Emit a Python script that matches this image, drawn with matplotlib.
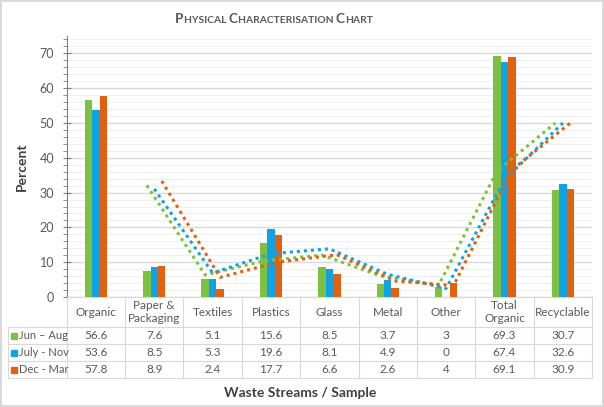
import matplotlib.pyplot as plt
import numpy as np
from matplotlib.transforms import blended_transform_factory
from matplotlib.ticker import MultipleLocator
from matplotlib.patches import Rectangle

plt.rcParams['font.family'] = ['Lato', 'DejaVu Sans']

categories = ["Organic", "Paper &\nPackaging", "Textiles", "Plastics", "Glass",
              "Metal", "Other", "Total\nOrganic", "Recyclable"]
series_names = ["Jun \u2013 Aug", "July - Nov", "Dec - Mar"]
jun_aug = [56.6, 7.6, 5.1, 15.6, 8.5, 3.7, 3, 69.3, 30.7]
jul_nov = [53.6, 8.5, 5.3, 19.6, 8.1, 4.9, 0, 67.4, 32.6]
dec_mar = [57.8, 8.9, 2.4, 17.7, 6.6, 2.6, 4, 69.1, 30.9]
labels = [["56.6", "7.6", "5.1", "15.6", "8.5", "3.7", "3", "69.3", "30.7"],
          ["53.6", "8.5", "5.3", "19.6", "8.1", "4.9", "0", "67.4", "32.6"],
          ["57.8", "8.9", "2.4", "17.7", "6.6", "2.6", "4", "69.1", "30.9"]]
colors = ["#7DC142", "#0FA3E6", "#E2600E"]

W, H = 604, 407
fig = plt.figure(figsize=(W/100, H/100), dpi=100)
fig.patch.set_edgecolor("#D9D9D9"); fig.patch.set_linewidth(1.5)

# axes placed in pixel layout
x0, x1, ytop, ybot = 66.7, 592, 36, 297
ax = fig.add_axes([x0/W, 1-ybot/H, (x1-x0)/W, (ybot-ytop)/H])

n = len(categories)
x = np.arange(n)
bw = 0.128
data = [jun_aug, jul_nov, dec_mar]
for i, (vals, c) in enumerate(zip(data, colors)):
    xs = x + (i-1)*bw
    ax.bar(xs, vals, width=bw, color=c, zorder=3)
    v = np.array(vals, dtype=float)
    ma = (v[1:] + v[:-1]) / 2   # 2-period moving average trendline
    ax.plot(xs[1:], ma, linestyle=(0, (1, 1.3)), color=c, lw=2.2, zorder=4)

ax.set_xlim(-0.5, n-0.5)
ax.set_ylim(0, 75)
ax.yaxis.set_major_locator(MultipleLocator(10))
ax.yaxis.set_minor_locator(MultipleLocator(2))
ax.grid(axis='y', which='major', color="#D9D9D9", lw=1, zorder=0)
ax.grid(axis='y', which='minor', color="#F0F0F0", lw=0.8, zorder=0)
ax.set_xticks([])
for s in ['top', 'right']:
    ax.spines[s].set_visible(False)
ax.spines['bottom'].set_color("#D9D9D9")
ax.spines['left'].set_color("#7F7F7F")
ax.tick_params(axis='y', which='major', direction='inout', length=6, color="#7F7F7F",
               labelsize=9, labelcolor="#595959", pad=6)
ax.tick_params(axis='y', which='minor', direction='out', length=3, color="#7F7F7F")

# data table below the axes
tr = blended_transform_factory(ax.transData, fig.transFigure)
fy = lambda py: 1 - py/H
lc = "#D9D9D9"
xl = -0.5 - (x0 - 7.5)/((x1 - x0)/n)
rows_y = [297, 327, 344, 361, 378]
ax.plot([-0.5, n-0.5], [fy(297)]*2, color=lc, lw=0.8, transform=tr, clip_on=False)
for yy in rows_y[1:]:
    ax.plot([xl, n-0.5], [fy(yy)]*2, color=lc, lw=0.8, transform=tr, clip_on=False)
for k in range(n+1):
    ax.plot([k-0.5]*2, [fy(297), fy(378)], color=lc, lw=0.8, transform=tr, clip_on=False)
ax.plot([xl]*2, [fy(327), fy(378)], color=lc, lw=0.8, transform=tr, clip_on=False)

for k, cat in enumerate(categories):
    ax.text(k, fy(312), cat, ha='center', va='center', fontsize=8.5, color="#595959",
            transform=tr, linespacing=1.15)
for r in range(3):
    ymid = (rows_y[r+1] + rows_y[r+2]) / 2
    for k in range(n):
        ax.text(k, fy(ymid), labels[r][k], ha='center', va='center', fontsize=8.5,
                color="#595959", transform=tr)
    fig.patches.append(Rectangle((11/W, fy(ymid+3)), 6/W, 6/H, color=colors[r],
                                 transform=fig.transFigure))
    fig.text(19/W, fy(ymid), series_names[r], ha='left', va='center', fontsize=8,
             color="#595959")

fig.text(22/W, fy(167), "Percent", rotation=90, ha='center', va='center',
         fontsize=10, fontweight='bold', color="#404040")
fig.text(300/W, fy(393), "Waste Streams / Sample", ha='center', va='center',
         fontsize=10, fontweight='bold', color="#404040")

# small caps title built from pieces
parts = [("P", 9.8), ("HYSICAL ", 7.4), ("C", 9.8), ("HARACTERISATION ", 7.4),
         ("C", 9.8), ("HART", 7.4)]
r = fig.canvas.get_renderer()
chain = []
xpos = 0
for s, sz in parts:
    t = fig.text(xpos/W, fy(23), s, fontsize=sz, fontweight='bold', color="#595959",
                 ha='left', va='baseline')
    xpos = t.get_window_extent(r).x1
    chain.append(t)
shift = 274 - xpos/2
for t in chain:
    px, py = t.get_position()
    t.set_position((px + shift/W, py))

fig.savefig("out.png", dpi=100)
